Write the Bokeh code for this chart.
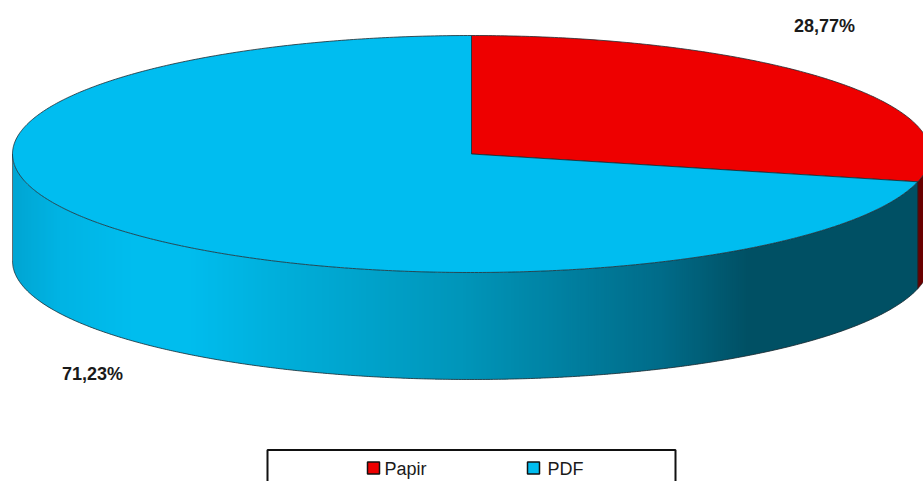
import numpy as np
from bokeh.plotting import figure
from bokeh.models import Range1d
from bokeh.embed import file_html
from bokeh.resources import INLINE
from bokeh.core.properties import value

categories = ["Papir", "PDF"]
shares = [28.77, 71.23]
labels = ["28,77%", "71,23%"]
colors = ["#EE0000", "#00BDF0"]
wall_dark_red = "#6A0000"
grad_x = [12, 60, 130, 190, 300, 462, 662, 750, 923]
grad_g = [165, 180, 189, 189, 172, 150, 108, 80, 80]
grad_b = [210, 228, 238, 238, 215, 186, 137, 100, 100]

cx, cy, rx, ry, depth = 471, 153.5, 459, 118.5, 107
W, H = 923, 481
p = figure(width=W, height=H, output_backend="svg", toolbar_location=None,
           x_range=Range1d(0, W), y_range=Range1d(H, 0),
           min_border=0, outline_line_color=None, background_fill_color="white",
           border_fill_color="white")
p.xaxis.visible = False
p.yaxis.visible = False
p.grid.visible = False

def pt(a):
    return cx + rx*np.sin(a), cy - ry*np.cos(a)

split = 2*np.pi*shares[0]/sum(shares)
edge = "#1E2A30"

# side wall of PDF: bands of whole-pixel width, so that no seam shows
x_end = pt(split)[0]
bands = np.arange(cx - rx, x_end + 2, 2.0)
bands[-1] = x_end
bx, by = [], []
bc = []
for i in range(len(bands) - 1):
    x0, x1 = bands[i], min(bands[i + 1] + 1, x_end)
    xx = np.linspace(x0, x1, 5)
    yy = cy + ry*np.sqrt(np.clip(1 - ((xx - cx)/rx)**2, 0, 1))
    bx.append(list(xx) + list(xx[::-1]))
    by.append(list(yy) + list((yy + depth)[::-1]))
    m = (x0 + x1)/2
    bc.append("#%02x%02x%02x" % (0, int(np.interp(m, grad_x, grad_g)), int(np.interp(m, grad_x, grad_b))))
p.patches(bx, by, fill_color=bc, line_color=None)

# side wall of Papir
ang_r = np.linspace(np.pi/2, split, 60)
xr, yr = pt(ang_r)
p.patch(list(xr)+list(xr[::-1]), list(yr)+list((yr+depth)[::-1]), fill_color=wall_dark_red, line_color=edge, line_width=0.7)

# wall outline
ang = np.linspace(split, 1.5*np.pi, 500)
xs, ys = pt(ang)
p.line(xs, ys+depth, line_color=edge, line_width=0.8)
p.line([xs[-1], xs[-1]], [ys[-1], ys[-1]+depth], line_color="#555555", line_width=0.8)
p.line([xs[0], xs[0]], [ys[0], ys[0]+depth], line_color=edge, line_width=0.8)

# top slices
a1 = np.linspace(0, split, 200)
x1, y1 = pt(a1)
p.patch([cx]+list(x1), [cy]+list(y1), fill_color=colors[0], line_color=edge, line_width=0.8)
a2 = np.linspace(split, 2*np.pi, 500)
x2, y2 = pt(a2)
p.patch([cx]+list(x2), [cy]+list(y2), fill_color=colors[1], line_color=edge, line_width=0.8)

# value labels
p.text([824, 92], [25, 373], text=labels, text_font=value("Liberation Sans"),
       text_font_style="bold", text_font_size="18px", text_color="#1a1a1a",
       text_align="center", text_baseline="middle")

# legend
p.line([267, 267, 675, 675], [490, 449.5, 449.5, 490], line_color="#111111", line_width=2)
p.scatter([373, 533], [467.5, 467.5], marker="square", size=12, fill_color=colors,
          line_color="#111111", line_width=1.5)
p.text([384, 547], [468, 468], text=categories, text_font=value("Liberation Sans"),
       text_font_size="18px", text_color="#1a1a1a", text_align="left", text_baseline="middle")

open("out.html", "w").write(file_html(p, INLINE))
